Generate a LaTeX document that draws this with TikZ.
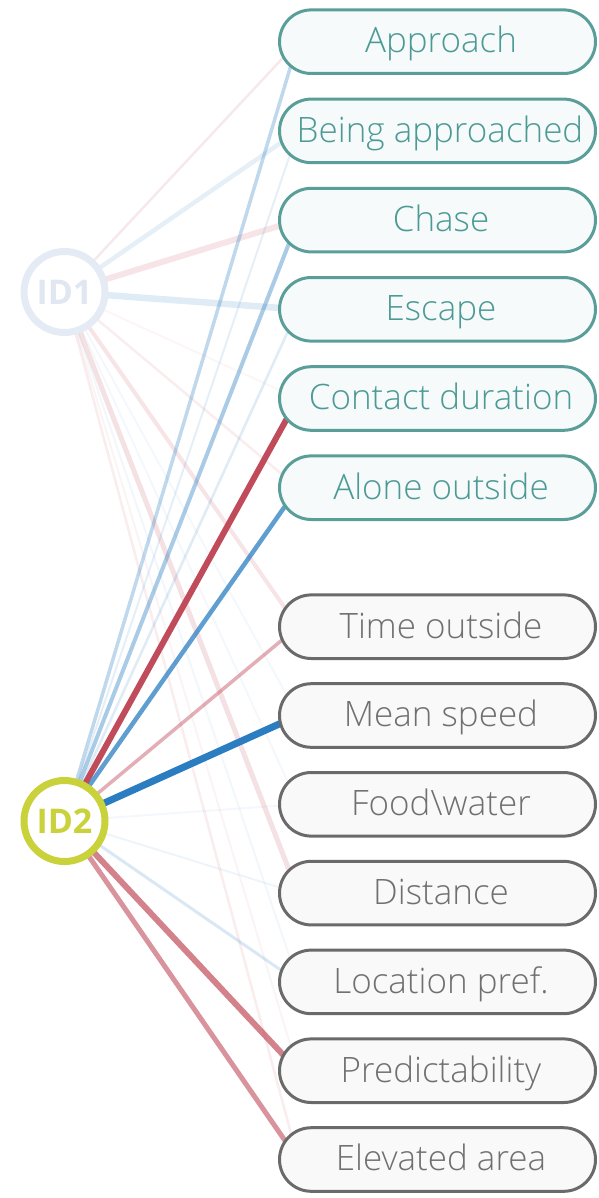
\documentclass[tikz,border=0pt]{standalone}
\usepackage{fontspec}
\IfFontExistsTF{Open Sans Light}{\newfontfamily\boxfont{Open Sans Light}}{\newfontfamily\boxfont{Open Sans}}
\IfFontExistsTF{Open Sans SemiBold}{\newfontfamily\idfont{Open Sans SemiBold}}{\newfontfamily\idfont{Open Sans}[BoldFeatures={FakeBold=0}]}
\definecolor{tealb}{HTML}{5A9E9A}
\definecolor{tealt}{HTML}{4C9A95}
\definecolor{tealf}{HTML}{F6FAFA}
\definecolor{greyb}{HTML}{6A6A6A}
\definecolor{greyt}{HTML}{707070}
\definecolor{greyf}{HTML}{F9F9F9}
\definecolor{idone}{HTML}{E4EBF5}
\definecolor{idonet}{HTML}{E0E7F1}
\definecolor{idtwo}{HTML}{C9D23A}
\definecolor{posred}{HTML}{C04B5A}
\definecolor{negblue}{HTML}{2A7DC0}
\pgfdeclarelayer{bg}
\pgfsetlayers{bg,main}
\newcommand\lnk[5]{\draw[line width=#4pt, draw=#3, draw opacity=#5] (#1.center) -- ([xshift=20pt]#2.west);}
\tikzset{
  boxbase/.style={rectangle, rounded corners=31.8pt, minimum width=316pt, minimum height=63.6pt, inner sep=0pt, line width=3pt},
  tealbox/.style={boxbase, draw=tealb, fill=tealf},
  greybox/.style={boxbase, draw=greyb, fill=greyf},
  tealtxt/.style={anchor=base, inner sep=0pt, text=tealt, font=\boxfont\fontsize{35}{40}\selectfont},
  greytxt/.style={anchor=base, inner sep=0pt, text=greyt, font=\boxfont\fontsize{35}{40}\selectfont},
  idcirc/.style={circle, minimum size=81pt, inner sep=0pt, line width=7pt, fill=white},
  idtxt/.style={anchor=base, inner sep=0pt, font=\idfont\bfseries\fontsize{34}{40}\selectfont},
}
\begin{document}
\begin{tikzpicture}[x=1pt, y=-1pt]
\useasboundingbox (0,0) rectangle (598,1198);
% teal boxes
\node[tealbox] (b1) at (437.5,41.7) {};
\node[tealbox] (b2) at (437.5,130.9) {};
\node[tealbox] (b3) at (437.5,220.1) {};
\node[tealbox] (b4) at (437.5,309.3) {};
\node[tealbox] (b5) at (437.5,398.5) {};
\node[tealbox] (b6) at (437.5,487.7) {};
% grey boxes
\node[greybox] (c1) at (437.5,626.7) {};
\node[greybox] (c2) at (437.5,715.5) {};
\node[greybox] (c3) at (437.5,804.3) {};
\node[greybox] (c4) at (437.5,893.1) {};
\node[greybox] (c5) at (437.5,981.9) {};
\node[greybox] (c6) at (437.5,1070.7) {};
\node[greybox] (c7) at (437.5,1159.5) {};
% labels
\node[tealtxt] (b1t) at (441,53) {Approach};
\node[tealtxt] (b2t) at (440,142.2) {Being approached};
\node[tealtxt] (b3t) at (441,231.4) {Chase};
\node[tealtxt] (b4t) at (441,320.6) {Escape};
\node[tealtxt] (b5t) at (441,409.8) {Contact duration};
\node[tealtxt] (b6t) at (441,499) {Alone outside};
\node[greytxt] (c1t) at (441,638) {Time outside};
\node[greytxt] (c2t) at (441,726.8) {Mean speed};
\node[greytxt] (c3t) at (441,815.6) {Food\textbackslash water};
\node[greytxt] (c4t) at (441,904.4) {Distance};
\node[greytxt] (c5t) at (441,993.2) {Location pref.};
\node[greytxt] (c6t) at (441,1082) {Predictability};
\node[greytxt] (c7t) at (441,1170.8) {Elevated area};
% ID circles
\node[idcirc, draw=idone] (id1) at (64.5,292) {};
\node[idtxt, text=idonet] (id1t) at (64.5,304.5) {ID1};
\node[idcirc, draw=idtwo] (id2) at (64.5,821) {};
\node[idtxt, text=idtwo] (id2t) at (64.5,833.5) {ID2};
\begin{pgfonlayer}{bg}
% ID1 links
\lnk{id1}{b1}{posred}{2.5}{0.12}
\lnk{id1}{b2}{negblue}{4.5}{0.12}
\lnk{id1}{b3}{posred}{6}{0.15}
\lnk{id1}{b4}{negblue}{6.5}{0.15}
\lnk{id1}{b5}{posred}{2}{0.05}
\lnk{id1}{b6}{posred}{2.5}{0.1}
\lnk{id1}{c1}{posred}{4}{0.15}
\lnk{id1}{c2}{negblue}{2}{0.05}
\lnk{id1}{c3}{negblue}{2}{0.05}
\lnk{id1}{c4}{posred}{5}{0.17}
\lnk{id1}{c5}{negblue}{2}{0.06}
\lnk{id1}{c6}{posred}{2}{0.06}
\lnk{id1}{c7}{posred}{2.5}{0.1}
% ID2 links
\lnk{id2}{b1}{negblue}{3.5}{0.3}
\lnk{id2}{b2}{negblue}{2}{0.12}
\lnk{id2}{b3}{negblue}{4}{0.4}
\lnk{id2}{b4}{negblue}{2.5}{0.15}
\lnk{id2}{b5}{posred}{6}{1}
\lnk{id2}{b6}{negblue}{4.5}{0.75}
\lnk{id2}{c1}{posred}{3.5}{0.45}
\lnk{id2}{c2}{negblue}{7}{1}
\lnk{id2}{c3}{negblue}{2}{0.05}
\lnk{id2}{c4}{negblue}{2}{0.08}
\lnk{id2}{c5}{negblue}{3}{0.18}
\lnk{id2}{c6}{posred}{6}{0.7}
\lnk{id2}{c7}{posred}{5}{0.6}
\end{pgfonlayer}
\end{tikzpicture}
\end{document}
